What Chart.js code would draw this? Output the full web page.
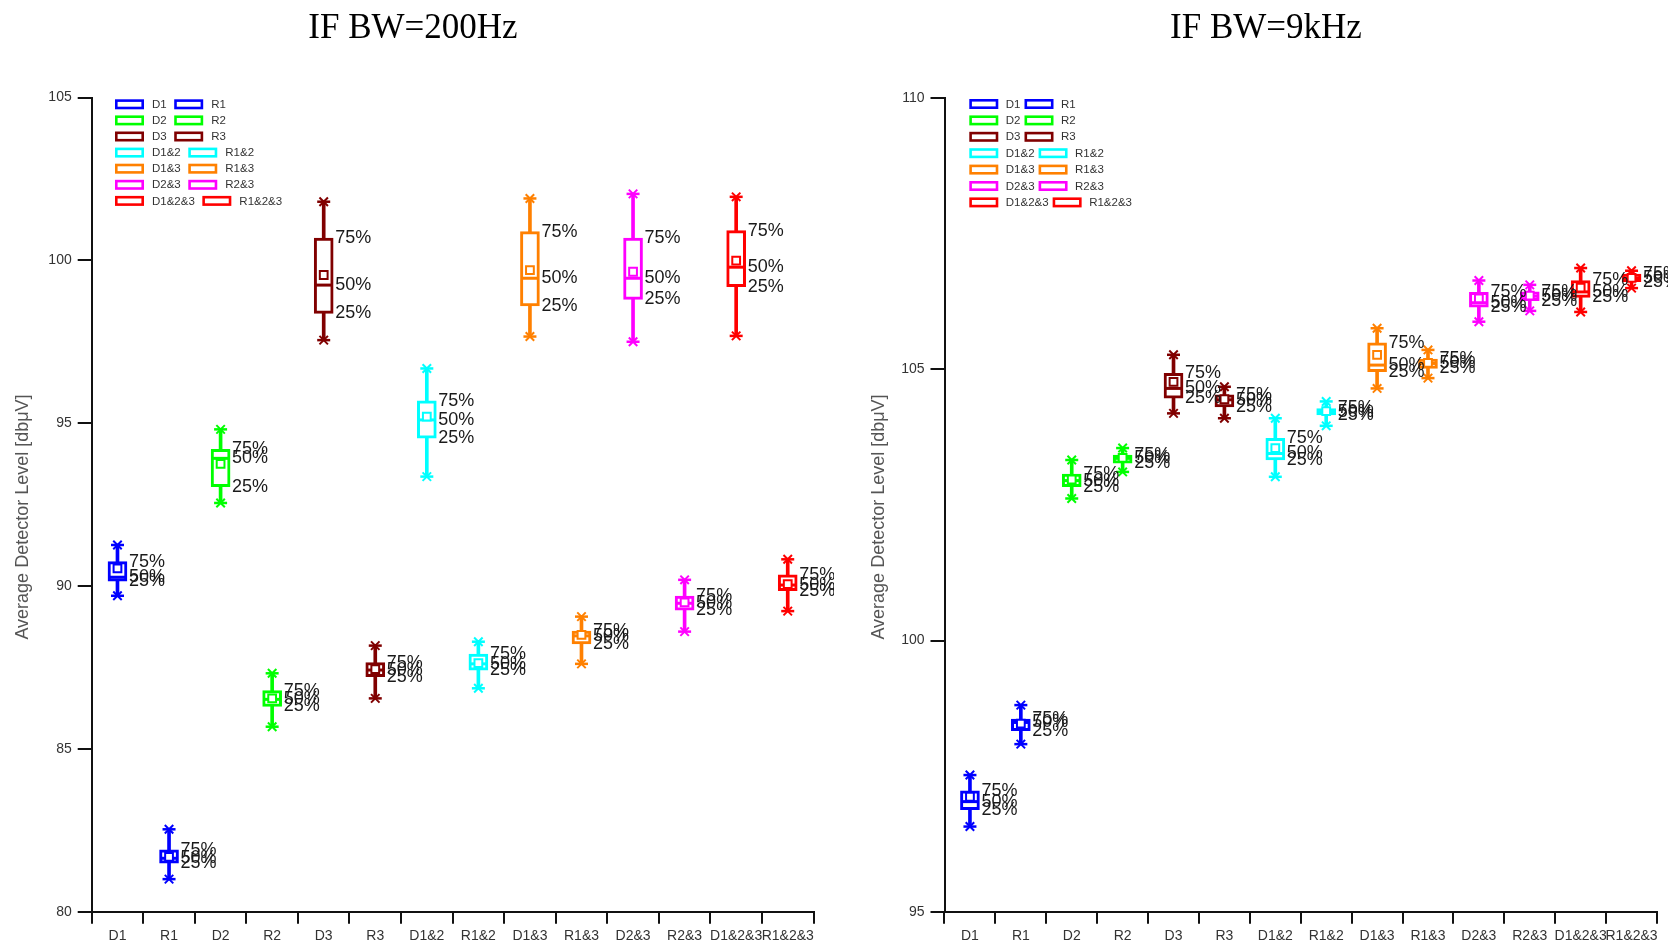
<!DOCTYPE html>
<html>
<head>
<meta charset="utf-8">
<script src="https://cdn.jsdelivr.net/npm/chart.js@4.4.1/dist/chart.umd.min.js"></script>
<style>
  html, body { margin: 0; padding: 0; background: #fff; overflow: hidden; }
  #wrap { position: relative; width: 1668px; height: 946px; background: #fff; }
  canvas { position: absolute; top: 0; }
  #c200 { left: 0; }
  #c9k { left: 834px; }
</style>
</head>
<body>
<div id="wrap">
  <canvas id="c200" width="834" height="946"></canvas>
  <canvas id="c9k" width="834" height="946"></canvas>
</div>
<script>
// Measurement groups (D = direct, R = reflected) and their colours
const categories = ['D1', 'R1', 'D2', 'R2', 'D3', 'R3', 'D1&2', 'R1&2', 'D1&3', 'R1&3', 'D2&3', 'R2&3', 'D1&2&3', 'R1&2&3'];
const groupColors = ['#0000ff', '#0000ff', '#00ff00', '#00ff00', '#800000', '#800000', '#00ffff', '#00ffff',
                     '#ff8000', '#ff8000', '#ff00ff', '#ff00ff', '#ff0000', '#ff0000'];

// IF BW = 200 Hz, average detector level [dBuV]
const bw200Min    = [89.70, 81.00, 92.55, 85.68, 97.55, 86.55, 93.36, 86.86, 97.66, 87.61, 97.50, 88.60, 97.68, 89.23];
const bw200Q1     = [90.15, 81.49, 93.05, 86.30, 98.37, 87.22, 94.54, 87.42, 98.60, 88.22, 98.80, 89.26, 99.19, 89.86];
const bw200Median = [90.27, 81.64, 93.92, 86.52, 99.24, 87.42, 95.10, 87.61, 99.45, 88.47, 99.45, 89.47, 99.79, 90.03];
const bw200Mean   = [90.54, 81.68, 93.75, 86.55, 99.55, 87.45, 95.20, 87.63, 99.70, 88.50, 99.65, 89.50, 99.99, 90.06];
const bw200Q3     = [90.75, 81.90, 94.20, 86.79, 100.68, 87.65, 95.69, 87.91, 100.88, 88.62, 100.68, 89.69, 100.91, 90.34];
const bw200Max    = [91.26, 82.53, 94.81, 87.32, 101.80, 88.17, 96.68, 88.29, 101.90, 89.06, 102.04, 90.19, 101.95, 90.82];

// IF BW = 9 kHz, average detector level [dBuV]
const bw9kMin    = [96.57, 98.09, 102.62, 103.11, 104.19, 104.10, 103.02, 103.96, 104.65, 104.84, 105.88, 106.08, 106.06, 106.50];
const bw9kQ1     = [96.88, 98.34, 102.84, 103.27, 104.47, 104.31, 103.33, 104.16, 104.96, 105.02, 106.15, 106.27, 106.33, 106.62];
const bw9kMedian = [97.03, 98.49, 102.95, 103.36, 104.65, 104.44, 103.45, 104.22, 105.08, 105.11, 106.23, 106.35, 106.43, 106.68];
const bw9kMean   = [97.12, 98.47, 102.97, 103.37, 104.77, 104.45, 103.55, 104.23, 105.27, 105.12, 106.31, 106.36, 106.51, 106.69];
const bw9kQ3     = [97.23, 98.55, 103.07, 103.42, 104.93, 104.53, 103.73, 104.28, 105.49, 105.19, 106.42, 106.43, 106.64, 106.76];
const bw9kMax    = [97.52, 98.81, 103.33, 103.55, 105.27, 104.68, 104.10, 104.41, 105.76, 105.36, 106.64, 106.56, 106.87, 106.82];

// Axis ranges and ticks
const bw200Axis = { min: 80, max: 105, step: 5 };
const bw9kAxis  = { min: 95, max: 110, step: 5 };
const percentLabels = ['75%', '50%', '25%'];
const yAxisTitle = 'Average Detector Level [dbμV]';

Chart.defaults.font.family = '"Liberation Sans", Arial, sans-serif';
Chart.defaults.animation = false;

// Writes the quartile captions to the right of each box
function quartileLabelPlugin(stats) {
  return {
    id: 'quartileLabels',
    afterDatasetsDraw(chart) {
      const { ctx, scales: { x, y } } = chart;
      ctx.save();
      ctx.font = '18px "Liberation Sans", Arial, sans-serif';
      ctx.fillStyle = '#1a1a1a';
      ctx.textAlign = 'left';
      ctx.textBaseline = 'middle';
      categories.forEach((c, i) => {
        const px = x.getPixelForValue(i) + 11.5;
        ctx.fillText(percentLabels[2], px, y.getPixelForValue(stats.q1[i]));
        ctx.fillText(percentLabels[1], px, y.getPixelForValue(stats.median[i]));
        ctx.fillText(percentLabels[0], px, y.getPixelForValue(stats.q3[i]));
      });
      ctx.restore();
    }
  };
}

// Rotated caption for the value axis
function yTitlePlugin(pos) {
  return {
    id: 'yCaption',
    afterDraw(chart) {
      const { ctx } = chart;
      ctx.save();
      ctx.translate(pos.x, pos.y);
      ctx.rotate(-Math.PI / 2);
      ctx.font = '18px "Liberation Sans", Arial, sans-serif';
      ctx.fillStyle = '#555';
      ctx.textAlign = 'center';
      ctx.textBaseline = 'middle';
      ctx.fillText(yAxisTitle, 0, 0);
      ctx.restore();
    }
  };
}

// Two-per-row key of hollow swatches in the top-left of the plot
function keyPlugin(opts) {
  return {
    id: 'groupKey',
    afterDraw(chart) {
      const { ctx } = chart;
      ctx.save();
      ctx.font = '11.5px "Liberation Sans", Arial, sans-serif';
      ctx.textAlign = 'left';
      ctx.textBaseline = 'middle';
      const sw = 29, sh = 10;
      for (let row = 0; row < categories.length / 2; row++) {
        const cy = opts.y + row * opts.rowStep;
        let x = opts.x;
        for (let k = 0; k < 2; k++) {
          const i = row * 2 + k;
          ctx.strokeStyle = groupColors[i];
          ctx.lineWidth = 2.6;
          ctx.strokeRect(x + 1.3, cy - sh / 2 + 1.3, sw - 2.6, sh - 2.6);
          const tx = x + sw + opts.textGap;
          ctx.fillStyle = '#333';
          ctx.fillText(categories[i], tx, cy + 0.5);
          x = tx + ctx.measureText(categories[i]).width + opts.itemGap;
        }
      }
      ctx.restore();
    }
  };
}

function makeBoxChart(canvasId, cfg) {
  const s = cfg.stats;
  const ptCommon = { type: 'line', showLine: false, clip: false };
  return new Chart(document.getElementById(canvasId), {
    type: 'bar',
    data: {
      labels: categories,
      datasets: [
        { type: 'bar', label: 'whisker', data: s.min.map((v, i) => [v, s.max[i]]),
          backgroundColor: groupColors, barThickness: 3, grouped: false, order: 9 },
        { type: 'bar', label: 'box', data: s.q1.map((v, i) => [v, s.q3[i]]),
          backgroundColor: '#ffffff', borderColor: groupColors, borderWidth: 3, borderSkipped: false,
          barThickness: 19, grouped: false, order: 8 },
        { ...ptCommon, label: 'median', data: s.median, pointStyle: 'line', pointRadius: 8,
          pointBorderColor: groupColors, pointBorderWidth: 3, order: 7 },
        { ...ptCommon, label: 'mean', data: s.mean, pointStyle: 'rect', pointRadius: 5.5,
          pointBackgroundColor: '#ffffff', pointBorderColor: groupColors, pointBorderWidth: 2, order: 6 },
        { ...ptCommon, label: 'max cap', data: s.max, pointStyle: 'line', pointRadius: 6.5,
          pointBorderColor: groupColors, pointBorderWidth: 2.5, order: 5 },
        { ...ptCommon, label: 'max', data: s.max, pointStyle: 'crossRot', pointRadius: 6,
          pointBorderColor: groupColors, pointBorderWidth: 2, order: 4 },
        { ...ptCommon, label: 'min cap', data: s.min, pointStyle: 'line', pointRadius: 6.5,
          pointBorderColor: groupColors, pointBorderWidth: 2.5, order: 3 },
        { ...ptCommon, label: 'min', data: s.min, pointStyle: 'crossRot', pointRadius: 6,
          pointBorderColor: groupColors, pointBorderWidth: 2, order: 2 }
      ]
    },
    options: {
      responsive: false,
      devicePixelRatio: 1,
      animation: false,
      events: [],
      layout: { padding: cfg.padding },
      plugins: {
        legend: { display: false },
        tooltip: { enabled: false },
        title: {
          display: true,
          text: cfg.title,
          color: '#000',
          font: { family: '"Liberation Serif", "Times New Roman", serif', size: 35, weight: 'normal' },
          padding: { top: 8, bottom: cfg.titleBottom }
        }
      },
      scales: {
        x: {
          offset: true,
          grid: { display: true, drawOnChartArea: false, drawTicks: true, tickLength: 12, color: '#111', lineWidth: 2 },
          border: { display: true, color: '#111', width: 2 },
          ticks: { color: '#333', font: { size: 14 }, autoSkip: false, maxRotation: 0, minRotation: 0, padding: 4 },
          afterFit(scale) { scale.height = 34.3; }
        },
        y: {
          min: cfg.axis.min,
          max: cfg.axis.max,
          grid: { display: true, drawOnChartArea: false, drawTicks: true, tickLength: 14, color: '#111', lineWidth: 2 },
          border: { display: true, color: '#111', width: 2 },
          ticks: { stepSize: cfg.axis.step, color: '#333', font: { size: 14 }, padding: 6 },
          afterFit(scale) { scale.width = cfg.yWidth; }
        }
      }
    },
    plugins: [quartileLabelPlugin(s), keyPlugin(cfg.key), yTitlePlugin(cfg.yTitlePos)]
  });
}

makeBoxChart('c200', {
  title: 'IF BW=200Hz',
  axis: bw200Axis,
  stats: { min: bw200Min, q1: bw200Q1, median: bw200Median, mean: bw200Mean, q3: bw200Q3, max: bw200Max },
  padding: { left: 12.5, right: 20.5, top: 0, bottom: 0 },
  titleBottom: 47.5,
  yWidth: 79.2,
  yTitlePos: { x: 23, y: 517 },
  key: { x: 115, y: 104.3, rowStep: 16.1, textGap: 8, itemGap: 7.5 }
});

makeBoxChart('c9k', {
  title: 'IF BW=9kHz',
  axis: bw9kAxis,
  stats: { min: bw9kMin, q1: bw9kQ1, median: bw9kMedian, mean: bw9kMean, q3: bw9kQ3, max: bw9kMax },
  padding: { left: 30, right: 0, top: 0, bottom: 0 },
  titleBottom: 48.3,
  yWidth: 80.5,
  yTitlePos: { x: 45, y: 517 },
  key: { x: 135.3, y: 104, rowStep: 16.4, textGap: 7.5, itemGap: 4 }
});
</script>
</body>
</html>
